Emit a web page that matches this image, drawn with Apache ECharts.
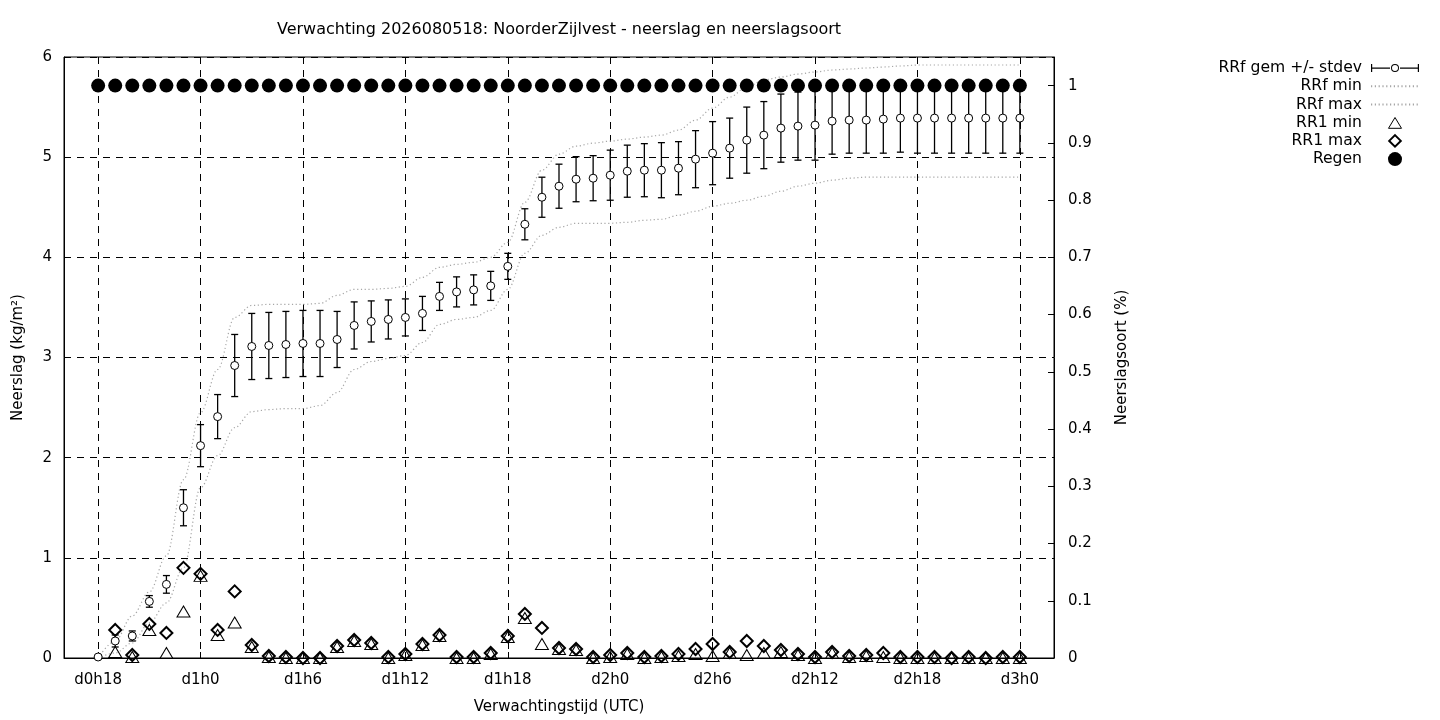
<!DOCTYPE html>
<html>
<head>
<meta charset="utf-8">
<script src="https://cdn.jsdelivr.net/npm/echarts@6/dist/echarts.min.js"></script>
<style>
html,body{margin:0;padding:0;background:#fff;}
#chart{width:1440px;height:720px;}
</style>
</head>
<body>
<div id="chart"></div>
<script>
// ---- data (lead hours d0h18 .. d3h0) ----
const categories = [
  'd0h18','d0h19','d0h20','d0h21','d0h22','d0h23',
  'd1h0','d1h1','d1h2','d1h3','d1h4','d1h5','d1h6','d1h7','d1h8','d1h9','d1h10','d1h11',
  'd1h12','d1h13','d1h14','d1h15','d1h16','d1h17','d1h18','d1h19','d1h20','d1h21','d1h22','d1h23',
  'd2h0','d2h1','d2h2','d2h3','d2h4','d2h5','d2h6','d2h7','d2h8','d2h9','d2h10','d2h11',
  'd2h12','d2h13','d2h14','d2h15','d2h16','d2h17','d2h18','d2h19','d2h20','d2h21','d2h22','d2h23',
  'd3h0'
];
const padBefore = ['d0h16','d0h17'];
const padAfter = ['d3h1','d3h2'];
const xTickLabels = ['d0h18','d1h0','d1h6','d1h12','d1h18','d2h0','d2h6','d2h12','d2h18','d3h0'];

const rrfMean = [
  0.01,0.17,0.22,0.565,0.735,1.50,
  2.12,2.41,2.92,3.11,3.12,3.13,3.14,3.14,3.18,3.32,3.36,3.38,
  3.40,3.44,3.61,3.655,3.675,3.715,3.91,4.33,4.60,4.71,4.78,4.79,
  4.82,4.86,4.87,4.87,4.89,4.98,5.04,5.09,5.17,5.22,5.29,5.31,
  5.32,5.36,5.37,5.37,5.38,5.39,5.39,5.39,5.39,5.39,5.39,5.39,
  5.39
];
const rrfStdev = [
  0,0.06,0.05,0.058,0.088,0.18,
  0.21,0.22,0.31,0.33,0.33,0.33,0.33,0.33,0.28,0.235,0.205,0.195,
  0.185,0.17,0.14,0.15,0.15,0.145,0.13,0.155,0.20,0.22,0.225,0.225,
  0.25,0.26,0.265,0.275,0.265,0.285,0.315,0.30,0.33,0.335,0.34,0.34,
  0.35,0.33,0.33,0.33,0.34,0.34,0.35,0.35,0.35,0.35,0.35,0.35,
  0.35
];
const rrfMin = [
  0.0,0.05,0.15,0.35,0.55,0.90,
  1.70,2.02,2.30,2.46,2.48,2.49,2.49,2.52,2.65,2.88,2.96,2.99,
  3.02,3.15,3.33,3.38,3.40,3.47,3.68,4.04,4.22,4.30,4.34,4.34,
  4.34,4.35,4.37,4.38,4.42,4.46,4.51,4.54,4.57,4.61,4.66,4.71,
  4.74,4.77,4.79,4.80,4.80,4.80,4.80,4.80,4.80,4.80,4.80,4.80,
  4.80
];
const rrfMax = [
  0.0,0.17,0.42,0.66,1.02,1.78,
  2.45,2.88,3.40,3.52,3.53,3.53,3.53,3.54,3.62,3.68,3.68,3.69,
  3.71,3.80,3.90,3.93,3.95,4.00,4.15,4.55,4.87,5.03,5.11,5.14,
  5.16,5.18,5.20,5.22,5.27,5.37,5.49,5.60,5.70,5.77,5.80,5.83,
  5.85,5.87,5.88,5.89,5.90,5.91,5.92,5.92,5.92,5.92,5.92,5.92,
  5.92
];
const rr1Min = [
  null,0.06,0.01,0.28,0.05,0.465,
  0.82,0.23,0.355,0.11,0.01,0.0,0.0,0.0,0.11,0.17,0.14,0.0,
  0.03,0.13,0.22,0.0,0.0,0.04,0.21,0.40,0.14,0.09,0.08,0.0,
  0.01,0.04,0.0,0.01,0.02,0.04,0.02,0.05,0.03,0.05,0.06,0.03,
  0.0,0.05,0.01,0.02,0.01,0.0,0.0,0.0,0.0,0.0,0.0,0.0,
  0.0
];
const rr1Max = [
  null,0.28,0.03,0.34,0.25,0.90,
  0.84,0.28,0.665,0.13,0.02,0.01,0.0,0.0,0.12,0.18,0.15,0.01,
  0.04,0.14,0.23,0.01,0.01,0.05,0.22,0.44,0.30,0.10,0.09,0.01,
  0.03,0.05,0.01,0.02,0.04,0.09,0.14,0.06,0.17,0.12,0.08,0.04,
  0.01,0.06,0.02,0.03,0.05,0.01,0.01,0.01,0.0,0.01,0.0,0.01,
  0.01
];
const regen = [
  1,1,1,1,1,1,
  1,1,1,1,1,1,1,1,1,1,1,1,
  1,1,1,1,1,1,1,1,1,1,1,1,
  1,1,1,1,1,1,1,1,1,1,1,1,
  1,1,1,1,1,1,1,1,1,1,1,1,
  1
];

// ---- build ----
const axisCats = padBefore.concat(categories, padAfter);
const pair = arr => arr.map((v, i) => [categories[i], v]);
const isTick = (idx, val) => xTickLabels.indexOf(val) >= 0;

const FONT = 'DejaVu Sans';
const errIcon = 'path://M0,4.4H19V5.6H0Z M29,4.4H48V5.6H29Z M0,1H1.2V9H0Z M46.8,1H48V9H46.8Z ' +
  'M28,5A4,4 0 1,0 20,5A4,4 0 1,0 28,5Z M27,5A3,3 0 1,1 21,5A3,3 0 1,1 27,5Z';
const triIcon = 'path://M0,0Z M14,14Z M7,1.8L13.5,12.6L0.5,12.6Z';
const diaIcon = 'path://M0,0Z M14,14Z M7,1.2L12.8,7L7,12.8L1.2,7Z';

function renderErr(params, api) {
  const x = api.value(0), m = api.value(1), s = api.value(2);
  if (!s) return null;
  const t = api.coord([x, m + s]), b = api.coord([x, m - s]);
  const hw = 3.5;
  const st = {stroke: '#000', lineWidth: 1.3};
  return {
    type: 'group',
    children: [
      {type: 'line', shape: {x1: t[0], y1: t[1], x2: b[0], y2: b[1]}, style: st},
      {type: 'line', shape: {x1: t[0] - hw, y1: t[1], x2: t[0] + hw, y2: t[1]}, style: st},
      {type: 'line', shape: {x1: b[0] - hw, y1: b[1], x2: b[0] + hw, y2: b[1]}, style: st}
    ]
  };
}

const dotted = {color: '#a6a6a6', width: 1.2, type: [1.2, 2.6]};
const noDot = {color: 'rgba(0,0,0,0)', borderWidth: 0, opacity: 0};

const chart = echarts.init(document.getElementById('chart'), null, {renderer: 'canvas'});
chart.setOption({
  animation: false,
  backgroundColor: '#fff',
  textStyle: {fontFamily: FONT, color: '#000'},
  title: {
    text: 'Verwachting 2026080518: NoorderZijlvest - neerslag en neerslagsoort',
    left: 559, top: 22, textAlign: 'center', padding: 0,
    textStyle: {fontFamily: FONT, fontSize: 16, fontWeight: 'normal', color: '#000'}
  },
  legend: {
    orient: 'vertical', align: 'right', right: 20, top: 59,
    itemWidth: 48, itemHeight: 14, itemGap: 0, padding: 0,
    selectedMode: false,
    textStyle: {fontFamily: FONT, fontSize: 15.6, color: '#000', lineHeight: 18.2, padding: [0, 4, 0, 0]},
    data: [
      {name: 'RRf gem +/- stdev', icon: errIcon},
      {name: 'RRf min', itemStyle: noDot},
      {name: 'RRf max', itemStyle: noDot},
      {name: 'RR1 min', icon: triIcon, itemStyle: {color: 'rgba(0,0,0,0)', borderColor: '#000', borderWidth: 1}},
      {name: 'RR1 max', icon: diaIcon, itemStyle: {color: 'rgba(0,0,0,0)', borderColor: '#000', borderWidth: 2}},
      {name: 'Regen', itemStyle: {color: '#000', borderWidth: 0}}
    ]
  },
  grid: {left: 64, right: 386, top: 57, bottom: 61, show: true, borderColor: '#000', borderWidth: 1, backgroundColor: 'transparent'},
  xAxis: {
    type: 'category', data: axisCats, boundaryGap: false,
    name: 'Verwachtingstijd (UTC)', nameLocation: 'middle', nameGap: 42,
    nameTextStyle: {fontFamily: FONT, fontSize: 15, color: '#000'},
    axisLine: {lineStyle: {color: '#000', width: 1}},
    axisTick: {inside: true, length: 6, interval: isTick, lineStyle: {color: '#000'}},
    axisLabel: {interval: isTick, margin: 15, fontFamily: FONT, fontSize: 15, color: '#000'},
    splitLine: {show: true, interval: isTick, lineStyle: {color: '#000', width: 1, type: [7, 6]}}
  },
  yAxis: [
    {
      type: 'value', min: 0, max: 6, interval: 1, position: 'left',
      name: 'Neerslag (kg/m²)', nameLocation: 'middle', nameGap: 38, nameRotate: 90,
      nameTextStyle: {fontFamily: FONT, fontSize: 15, color: '#000'},
      axisLine: {show: true, lineStyle: {color: '#000'}},
      axisTick: {show: true, inside: true, length: 6, lineStyle: {color: '#000'}},
      axisLabel: {margin: 12, fontFamily: FONT, fontSize: 15, color: '#000'},
      splitLine: {show: true, lineStyle: {color: '#000', width: 1, type: [7, 6]}}
    },
    {
      type: 'value', min: 0, max: 1.05, interval: 0.1, position: 'right',
      name: 'Neerslagsoort (%)', nameLocation: 'middle', nameGap: 61, nameRotate: 90,
      nameTextStyle: {fontFamily: FONT, fontSize: 15, color: '#000'},
      axisLine: {show: true, lineStyle: {color: '#000'}},
      axisTick: {show: true, inside: true, length: 6, lineStyle: {color: '#000'}},
      axisLabel: {margin: 14, fontFamily: FONT, fontSize: 15, color: '#000', showMaxLabel: false,
        formatter: v => String(Math.round(v * 10) / 10)},
      splitLine: {show: false}
    }
  ],
  series: [
    {
      name: 'RRf min', type: 'line', data: pair(rrfMin), symbol: 'none', showSymbol: false,
      smooth: 0.35, smoothMonotone: 'x', lineStyle: dotted, itemStyle: {color: '#a6a6a6'}, z: 2, silent: true
    },
    {
      name: 'RRf max', type: 'line', data: pair(rrfMax), symbol: 'none', showSymbol: false,
      smooth: 0.35, smoothMonotone: 'x', lineStyle: dotted, itemStyle: {color: '#a6a6a6'}, z: 2, silent: true
    },
    {
      name: 'RRf gem +/- stdev', type: 'custom', renderItem: renderErr,
      data: rrfMean.map((v, i) => [categories[i], v, rrfStdev[i]]),
      encode: {x: 0, y: 1}, itemStyle: {color: '#000'}, z: 3, silent: true
    },
    {
      name: 'RRf gem', type: 'scatter', data: pair(rrfMean), symbol: 'circle', symbolSize: 8,
      itemStyle: {color: '#fff', borderColor: '#000', borderWidth: 1, opacity: 1}, z: 4, silent: true
    },
    {
      name: 'RR1 min', type: 'scatter', data: pair(rr1Min), symbol: 'triangle', symbolSize: [13, 11],
      itemStyle: {color: 'rgba(255,255,255,0)', borderColor: '#000', borderWidth: 1, opacity: 1}, z: 5, silent: true
    },
    {
      name: 'RR1 max', type: 'scatter', data: pair(rr1Max), symbol: 'diamond', symbolSize: 12,
      itemStyle: {color: 'rgba(255,255,255,0)', borderColor: '#000', borderWidth: 2, opacity: 1}, z: 6, silent: true
    },
    {
      name: 'Regen', type: 'scatter', yAxisIndex: 1, data: pair(regen), symbol: 'circle', symbolSize: 14,
      itemStyle: {color: '#000', opacity: 1}, z: 7, silent: true
    }
  ]
});
</script>
</body>
</html>
